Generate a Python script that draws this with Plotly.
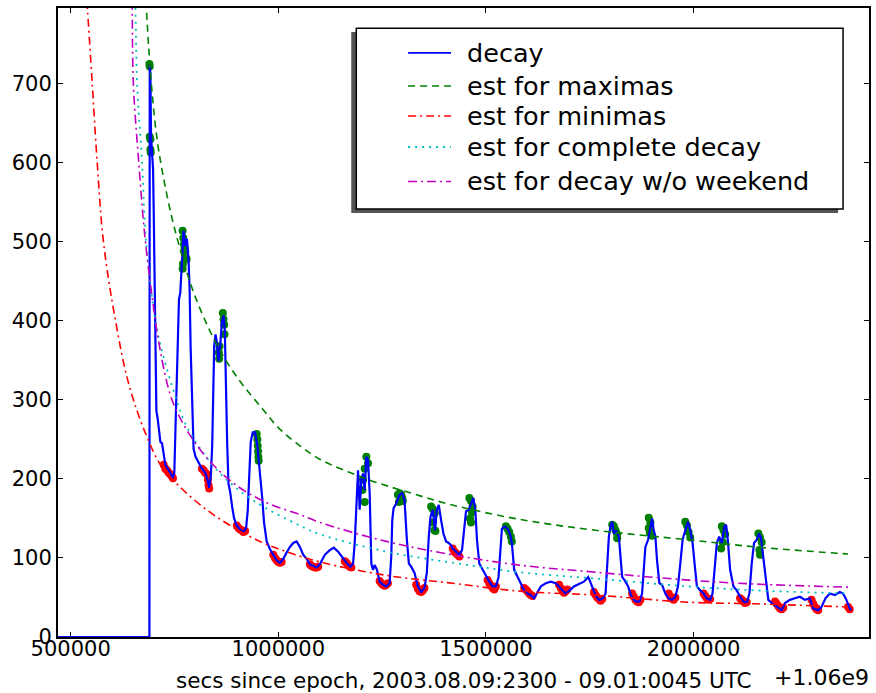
import plotly.graph_objects as go

# x values are seconds since epoch minus the 1.06e9 offset
OFFSET_LABEL = "+1.06e9"

decay_x = [400000, 689600, 690400, 692000, 693600, 695200, 696800, 698400, 700000, 701600,
           704000, 706400, 709600, 712800, 716000, 720000, 724000, 728000, 733600, 740000,
           745600, 749600, 752800, 756000, 760800, 764000, 766400, 768800, 772000, 776000,
           780000, 784000, 786400, 788800, 792000, 796000, 800800, 808000, 816000, 824000,
           829600, 833600, 837600, 840800, 843200, 845600, 848800, 852000, 856000, 860000,
           864000, 868000, 871200, 873600, 876800, 880000, 884000, 888800, 893600, 900000,
           908000, 916000, 922400, 926400, 929600, 933600, 938400, 944000, 949600, 954400,
           958400, 961600, 965600, 972000, 980000, 988000, 996000, 1004000, 1012000, 1020000,
           1028000, 1036000, 1044000, 1052000, 1060000, 1068000, 1076000, 1084000, 1092000, 1100000,
           1112000, 1124000, 1133600, 1144000, 1154400, 1164000, 1173600, 1180000, 1184000, 1188000,
           1192000, 1196000, 1200000, 1204000, 1208000, 1212000, 1216000, 1220000, 1224000, 1228000,
           1232000, 1237600, 1244000, 1252000, 1260000, 1268000, 1272000, 1274400, 1277600, 1284000,
           1292000, 1298400, 1304000, 1309600, 1314400, 1320000, 1328000, 1336000, 1344000, 1352000,
           1357600, 1362400, 1366400, 1372000, 1377600, 1381600, 1386400, 1392000, 1397600, 1404000,
           1410400, 1416000, 1420000, 1428000, 1436000, 1442400, 1448000, 1452000, 1458400, 1464000,
           1469600, 1474400, 1478400, 1484000, 1492000, 1500000, 1508000, 1516000, 1524000, 1530400,
           1535200, 1538400, 1544800, 1552000, 1557600, 1562400, 1568000, 1576000, 1584000, 1592000,
           1600000, 1608000, 1616000, 1624000, 1632000, 1644000, 1656000, 1668000, 1680000, 1692000,
           1701600, 1712000, 1724000, 1736000, 1746400, 1756000, 1764000, 1772000, 1781600, 1788000,
           1792000, 1796000, 1800000, 1804000, 1808000, 1813600, 1820000, 1824000, 1828000, 1836000,
           1842400, 1850400, 1860000, 1869600, 1876000, 1880000, 1884000, 1890400, 1894400, 1900000,
           1904000, 1908000, 1912000, 1917600, 1924000, 1932000, 1940000, 1948000, 1956000, 1962400,
           1968000, 1973600, 1980000, 1986400, 1992000, 1997600, 2002400, 2008000, 2016000, 2024000,
           2032000, 2040000, 2045600, 2050400, 2056000, 2061600, 2068000, 2074400, 2078400, 2082400,
           2088000, 2096000, 2104000, 2112000, 2120000, 2128000, 2134400, 2140000, 2145600, 2152000,
           2157600, 2162400, 2168000, 2173600, 2180000, 2188000, 2200000, 2212000, 2220000, 2232000,
           2244000, 2256000, 2268000, 2280000, 2288000, 2300000, 2308000, 2317600, 2328000, 2340000,
           2352000, 2360000, 2368000, 2376000, 2380000]
decay_y = [0, 0, 725, 713, 633, 616, 611, 592, 538, 465,
           393, 286, 276, 257, 247, 245, 228, 218, 213, 208,
           201, 208, 272, 344, 427, 436, 465, 495, 514, 495,
           504, 475, 441, 368, 296, 238, 228, 221, 213, 208,
           199, 189, 204, 242, 320, 368, 383, 373, 349, 368,
           398, 407, 388, 320, 247, 194, 184, 165, 150, 141,
           136, 133, 138, 160, 208, 247, 259, 259, 242, 218,
           199, 174, 145, 121, 111, 104, 97, 94, 99, 107,
           114, 119, 121, 114, 104, 99, 92, 90, 88, 92,
           104, 110, 113, 108, 100, 94, 89, 93, 119, 178,
           211, 161, 199, 207, 186, 228, 224, 182, 93, 85,
           91, 85, 70, 66, 64, 68, 102, 148, 163, 169,
           180, 182, 173, 123, 93, 89, 81, 64, 57, 62,
           81, 127, 152, 161, 135, 161, 167, 148, 131, 121,
           119, 116, 112, 108, 104, 110, 135, 159, 161, 169,
           176, 161, 123, 93, 85, 78, 70, 64, 64, 76,
           110, 137, 140, 137, 131, 119, 85, 76, 66, 59,
           55, 53, 49, 57, 64, 68, 70, 68, 62, 55,
           59, 64, 67, 70, 76, 64, 53, 47, 49, 55,
           93, 127, 140, 146, 131, 135, 127, 102, 76, 70,
           64, 51, 45, 45, 55, 85, 114, 123, 135, 150,
           135, 127, 97, 68, 66, 55, 49, 47, 51, 64,
           93, 123, 135, 146, 135, 119, 93, 64, 59, 55,
           49, 47, 55, 85, 119, 127, 119, 140, 142, 123,
           85, 64, 59, 51, 45, 43, 55, 93, 119, 123,
           131, 125, 102, 72, 47, 43, 38, 34, 43, 47,
           49, 51, 47, 49, 36, 34, 38, 49, 55, 53,
           57, 55, 47, 36, 34]

max_x = [689600, 690400, 690400, 692000, 692000, 692800,
         769600, 771200, 772800, 774400, 776000, 777600, 779200, 770400, 769600,
         866400, 868000, 869600, 870400, 858400, 856800, 857600,
         948000, 949600, 950400, 951200, 952000, 952800,
         1212000, 1216000, 1208000, 1204000, 1202400, 1208000,
         1288000, 1292000, 1296000, 1298400, 1290400, 1300000,
         1368000, 1372000, 1376800, 1372000, 1376000, 1378400,
         1460000, 1464000, 1468000, 1466400, 1461600, 1464000,
         1548000, 1552000, 1556000, 1560000, 1562400,
         1804000, 1808000, 1812000, 1816000, 1816000,
         1892000, 1896000, 1892000, 1894400, 1900000,
         1980000, 1984000, 1988000, 1992000,
         2068000, 2072000, 2076000, 2070400, 2066400,
         2156000, 2160000, 2164000, 2158400, 2160000]
max_y = [725, 722, 633, 630, 617, 613,
         514, 505, 497, 492, 488, 480, 478, 472, 466,
         410, 402, 395, 383, 368, 360, 352,
         257, 250, 242, 235, 228, 223,
         228, 220, 213, 199, 186, 171,
         180, 182, 180, 176, 171, 172,
         165, 162, 157, 145, 135, 134,
         176, 172, 165, 158, 150, 145,
         140, 137, 133, 127, 121,
         142, 140, 135, 130, 125,
         151, 145, 138, 132, 128,
         146, 141, 133, 126,
         140, 135, 130, 120, 112,
         131, 126, 120, 110, 104]

min_x = [724000, 728000, 732000, 736000, 740000, 744000, 746400,
         816000, 820000, 824000, 828000, 830400, 832000, 833600,
         900000, 904000, 908000, 912000, 916000, 920000,
         988000, 992000, 996000, 1000000, 1004000, 1008000,
         1076000, 1080000, 1084000, 1088000, 1092000, 1096000,
         1160000, 1164000, 1168000, 1172000, 1176000,
         1244000, 1248000, 1252000, 1256000, 1260000, 1264000,
         1332000, 1336000, 1340000, 1344000, 1348000, 1352000,
         1420000, 1424000, 1428000, 1432000, 1436000,
         1504000, 1508000, 1512000, 1516000, 1520000, 1524000,
         1592000, 1596000, 1600000, 1604000, 1608000, 1612000,
         1676000, 1680000, 1684000, 1688000, 1692000, 1696000,
         1760000, 1764000, 1768000, 1772000, 1776000, 1780000,
         1852000, 1856000, 1860000, 1864000, 1868000, 1872000,
         1940000, 1944000, 1948000, 1952000, 1956000,
         2024000, 2028000, 2032000, 2036000, 2040000,
         2112000, 2116000, 2120000, 2124000, 2128000,
         2196000, 2200000, 2204000, 2208000, 2212000, 2216000,
         2284000, 2288000, 2292000, 2296000, 2300000,
         2372000, 2376000]
min_y = [218, 213, 211, 208, 206, 203, 201,
         213, 211, 208, 206, 199, 192, 188,
         141, 138, 136, 135, 133, 134,
         104, 100, 97, 95, 94, 95,
         92, 90, 89, 88, 88, 89,
         96, 94, 91, 89, 88,
         71, 68, 66, 65, 66, 68,
         66, 61, 58, 57, 59, 62,
         112, 108, 106, 104, 102,
         72, 68, 65, 62, 60, 64,
         62, 60, 58, 55, 53, 52,
         66, 62, 59, 56, 58, 60,
         57, 53, 50, 48, 46, 48,
         55, 51, 47, 45, 44, 47,
         55, 51, 49, 47, 50,
         55, 52, 49, 47, 48,
         49, 47, 45, 43, 44,
         45, 42, 39, 36, 35, 37,
         47, 42, 38, 35, 34,
         38, 35]

est_max_x = [683000, 688000, 696000, 708000, 724000, 744000, 764000, 790000, 820000, 860000,
             910000, 960000, 1000000, 1052000, 1100000, 1212800, 1320000, 1419200, 1580000,
             1764800, 1988000, 2148800, 2372000]
est_max_y = [790, 745, 690, 630, 580, 530, 490, 445, 405, 362,
             322, 290, 265, 242, 225, 200, 182, 167, 149,
             135, 123, 114, 105]

est_min_x = [539000, 541000, 552000, 564000, 579000, 608000, 640000, 680000, 720000, 771000,
             830000, 891000, 960000, 1020000, 1100000, 1260000, 1420000, 1580000, 1764000,
             1988000, 2148800, 2372000]
est_min_y = [805, 790, 700, 600, 500, 400, 320, 258, 215, 186,
             160, 139, 120, 108, 95, 78, 68, 58, 53,
             44, 42, 38]

est_all_x = [655000, 656000, 660000, 672000, 681600, 704000, 716000, 747000, 780000, 852800,
             939000, 1052000, 1100000, 1260000, 1420000, 1580000, 1764000, 1988000, 2148800, 2372000]
est_all_y = [805, 794, 700, 600, 500, 400, 370, 313, 266, 211,
             173, 141, 130, 108, 94, 82, 74, 64, 59, 55]

est_wk_x = [647000, 648000, 651000, 664000, 680000, 704000, 711000, 747000, 812000, 891000,
            972000, 1052000, 1100000, 1260000, 1420000, 1580000, 1764000, 1988000, 2148800, 2379000]
est_wk_y = [805, 794, 700, 600, 500, 400, 376, 296, 237, 195,
            170, 155, 145, 121, 104, 91, 82, 72, 67, 63]

legend_names = ["decay", "est for maximas", "est for minimas",
                "est for complete decay", "est for decay w/o weekend"]

xticks = [500000, 1000000, 1500000, 2000000]
yticks = [0, 100, 200, 300, 400, 500, 600, 700]
X_RANGE = [469500, 2422400]
Y_RANGE = [0, 796]

FONT = "DejaVu Sans"
styles = [
    dict(color="#0000ff", width=2.2, dash="solid"),
    dict(color="#008000", width=1.6, dash="7px,5px"),
    dict(color="#ff0000", width=1.6, dash="8px,4px,2px,4px"),
    dict(color="#00bfbf", width=1.8, dash="2px,5px"),
    dict(color="#bf00bf", width=1.6, dash="9px,4px,2px,4px"),
]

fig = go.Figure()

fig.add_trace(go.Scatter(x=max_x, y=max_y, mode="markers", showlegend=False,
                         marker=dict(color="#008000", size=8, line=dict(width=0))))
fig.add_trace(go.Scatter(x=min_x, y=min_y, mode="markers", showlegend=False,
                         marker=dict(color="#ff0000", size=8, line=dict(width=0))))
series = [(decay_x, decay_y, "linear"), (est_max_x, est_max_y, "spline"),
          (est_min_x, est_min_y, "spline"), (est_all_x, est_all_y, "spline"),
          (est_wk_x, est_wk_y, "spline")]
for (xs, ys, shp), name, st in zip(series, legend_names, styles):
    fig.add_trace(go.Scatter(x=xs, y=ys, mode="lines", name=name, showlegend=False,
                             line=dict(color=st["color"], width=st["width"], dash=st["dash"], shape=shp)))

axis_common = dict(showline=True, linecolor="black", linewidth=2, mirror="allticks",
                   ticks="inside", ticklen=5, tickwidth=1, tickcolor="black",
                   showgrid=False, zeroline=False, layer="below traces",
                   tickfont=dict(family=FONT, size=21, color="black"))

fig.update_xaxes(range=X_RANGE, tickvals=xticks, ticktext=[str(v) for v in xticks],
                 ticklabelstandoff=-8, **axis_common)
fig.update_yaxes(range=Y_RANGE, tickvals=yticks, ticktext=[str(v) for v in yticks], **axis_common)

# legend frame with shadow (paper coords)
fig.add_shape(type="rect", xref="paper", yref="paper", x0=0.3616, x1=0.9619, y0=0.674, y1=0.9618,
              fillcolor="#555555", line=dict(width=0), layer="below")
fig.add_shape(type="rect", xref="paper", yref="paper", x0=0.3678, x1=0.968, y0=0.6805, y1=0.968,
              fillcolor="white", line=dict(color="black", width=1.5), layer="below")

# legend entries
legend_rows = [0.9285, 0.8760, 0.8283, 0.7790, 0.7242]
for name, st, yy in zip(legend_names, styles, legend_rows):
    fig.add_shape(type="line", xref="paper", yref="paper", x0=0.4317, x1=0.4846, y0=yy, y1=yy,
                  line=dict(color=st["color"], width=min(st["width"], 1.8), dash=st["dash"]))
    fig.add_annotation(text=name, xref="paper", yref="paper", x=0.5018, y=yy,
                       xanchor="left", yanchor="middle", showarrow=False,
                       font=dict(family=FONT, size=25.5, color="black"))

fig.add_annotation(text="secs since epoch, 2003.08.09:2300 - 09.01:0045 UTC", xref="paper", yref="paper",
                   x=0.501, y=-0.0684, xanchor="center", yanchor="middle", showarrow=False,
                   font=dict(family=FONT, size=21.5, color="black"))
fig.add_annotation(text=OFFSET_LABEL, xref="paper", yref="paper",
                   x=1.0025, y=-0.0636, xanchor="right", yanchor="middle", showarrow=False,
                   font=dict(family=FONT, size=22, color="black"))

fig.update_layout(
    width=876, height=693,
    margin=dict(l=58, r=5, t=8, b=56),
    paper_bgcolor="white", plot_bgcolor="white",
    font=dict(family=FONT, size=21, color="black"),
    showlegend=False,
)

fig.write_html("out.html")
